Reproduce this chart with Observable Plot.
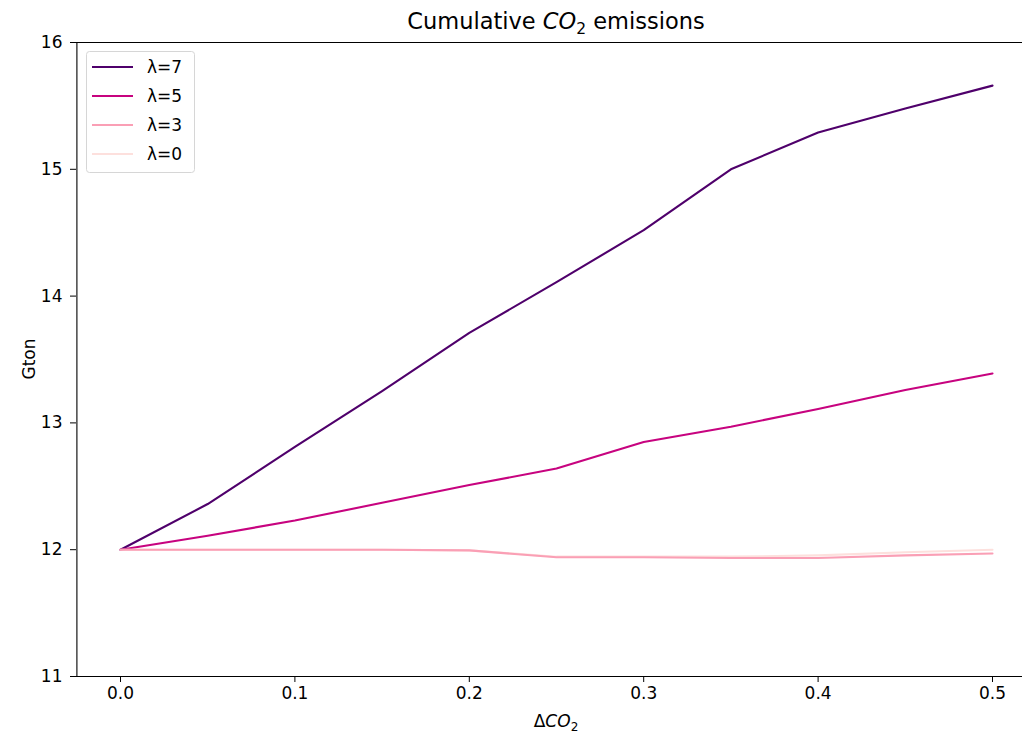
<!DOCTYPE html>
<html>
<head>
<meta charset="utf-8">
<script src="https://cdn.jsdelivr.net/npm/d3@7"></script>
<script src="https://cdn.jsdelivr.net/npm/@observablehq/plot@0.6"></script>
<style>
  body { margin: 0; background: #fff; }
  #chart svg { display: block; }
</style>
</head>
<body>
<div id="chart"></div>
<script>
const dco2 = [0, 0.05, 0.1, 0.15, 0.2, 0.25, 0.3, 0.35, 0.4, 0.45, 0.5];
const lam7 = [12.0, 12.36, 12.81, 13.25, 13.71, 14.11, 14.52, 15.0, 15.29, 15.48, 15.66];
const lam5 = [12.0, 12.11, 12.23, 12.37, 12.51, 12.64, 12.85, 12.97, 13.11, 13.26, 13.39];
const lam3 = [12.0, 12.0, 12.0, 12.0, 11.995, 11.94, 11.94, 11.935, 11.935, 11.955, 11.97];
const lam0 = [12.0, 12.0, 12.0, 12.0, 11.995, 11.945, 11.945, 11.945, 11.955, 11.98, 12.0];
const seriesNames = ["λ=7", "λ=5", "λ=3", "λ=0"];
const seriesValues = [lam7, lam5, lam3, lam0];
const seriesColors = ["#4f006b", "#c7037f", "#fa9fb5", "#fde0dd"];
const drawOrder = [0, 1, 3, 2];
const yTicks = [11, 12, 13, 14, 15, 16];
const xTicks = [0, 0.1, 0.2, 0.3, 0.4, 0.5];

const rows = [];
seriesNames.forEach((name, i) => {
  dco2.forEach((x, j) => rows.push({series: name, x, y: seriesValues[i][j]}));
});

const font = "DejaVu Sans, sans-serif";
const FS = 17;
const W = 1022, H = 736;
const xRange = [76.4, 1035.6];
const yRange = [676, 42];

const plot = Plot.plot({
  width: W,
  height: H,
  marginLeft: 76, marginRight: 0, marginTop: 42, marginBottom: 60,
  style: {fontFamily: font, fontSize: FS + "px", color: "#000", background: "#fff"},
  x: {domain: [-0.025, 0.525], range: xRange},
  y: {domain: [11, 16], range: yRange},
  marks: [
    ...drawOrder.map(i => Plot.line(rows.filter(r => r.series === seriesNames[i]), {
      x: "x", y: "y", stroke: seriesColors[i], strokeWidth: 2.1
    })),
    Plot.ruleX([-0.025], {stroke: "#000", strokeWidth: 1.1}),
    Plot.ruleY([11], {stroke: "#000", strokeWidth: 1.1}),
    Plot.ruleY([16], {stroke: "#000", strokeWidth: 1.1}),
    Plot.axisX({ticks: xTicks, tickFormat: d3.format(".1f"), tickSize: 6, tickPadding: 4, label: null, fontSize: FS}),
    Plot.axisY({ticks: yTicks, tickFormat: d3.format("d"), tickSize: 6, tickPadding: 8, label: null, fontSize: FS})
  ]
});

document.getElementById("chart").appendChild(plot);

const svg = d3.select(plot);
svg.selectAll("text").style("font-size", FS + "px").attr("font-size", FS);

// Title
const title = svg.append("text")
  .attr("x", 556).attr("y", 29)
  .attr("text-anchor", "middle")
  .attr("font-family", font).style("font-size", "22.5px").attr("fill", "#000");
title.append("tspan").text("Cumulative ");
title.append("tspan").attr("font-style", "italic").text("CO");
title.append("tspan").style("font-size", "15.5px").attr("dy", 5).text("2");
title.append("tspan").attr("dy", -5).text(" emissions");

// X label
const xl = svg.append("text")
  .attr("x", 556).attr("y", 727)
  .attr("text-anchor", "middle")
  .attr("font-family", font).style("font-size", FS + "px").attr("fill", "#000");
xl.append("tspan").text("Δ");
xl.append("tspan").attr("font-style", "italic").text("CO");
xl.append("tspan").style("font-size", "12px").attr("dy", 4).text("2");

// Y label
svg.append("text")
  .attr("transform", "translate(30,359) rotate(-90)")
  .attr("text-anchor", "middle")
  .attr("dominant-baseline", "middle")
  .attr("font-family", font).style("font-size", FS + "px").attr("fill", "#000")
  .text("Gton");

// Legend
const lg = svg.append("g");
lg.append("rect")
  .attr("x", 86.5).attr("y", 51.5).attr("width", 108).attr("height", 121)
  .attr("rx", 3).attr("fill", "#fff").attr("fill-opacity", 0.8)
  .attr("stroke", "#d6d6d6").attr("stroke-width", 1);
seriesNames.forEach((name, i) => {
  const y = 67 + i * 29;
  lg.append("line").attr("x1", 92).attr("x2", 133).attr("y1", y).attr("y2", y)
    .attr("stroke", seriesColors[i]).attr("stroke-width", 2.1);
  lg.append("text").attr("x", 147).attr("y", y).attr("dy", "0.35em")
    .attr("text-anchor", "start")
    .attr("font-family", font).style("font-size", FS + "px").attr("fill", "#000").text(name);
});
</script>
</body>
</html>
